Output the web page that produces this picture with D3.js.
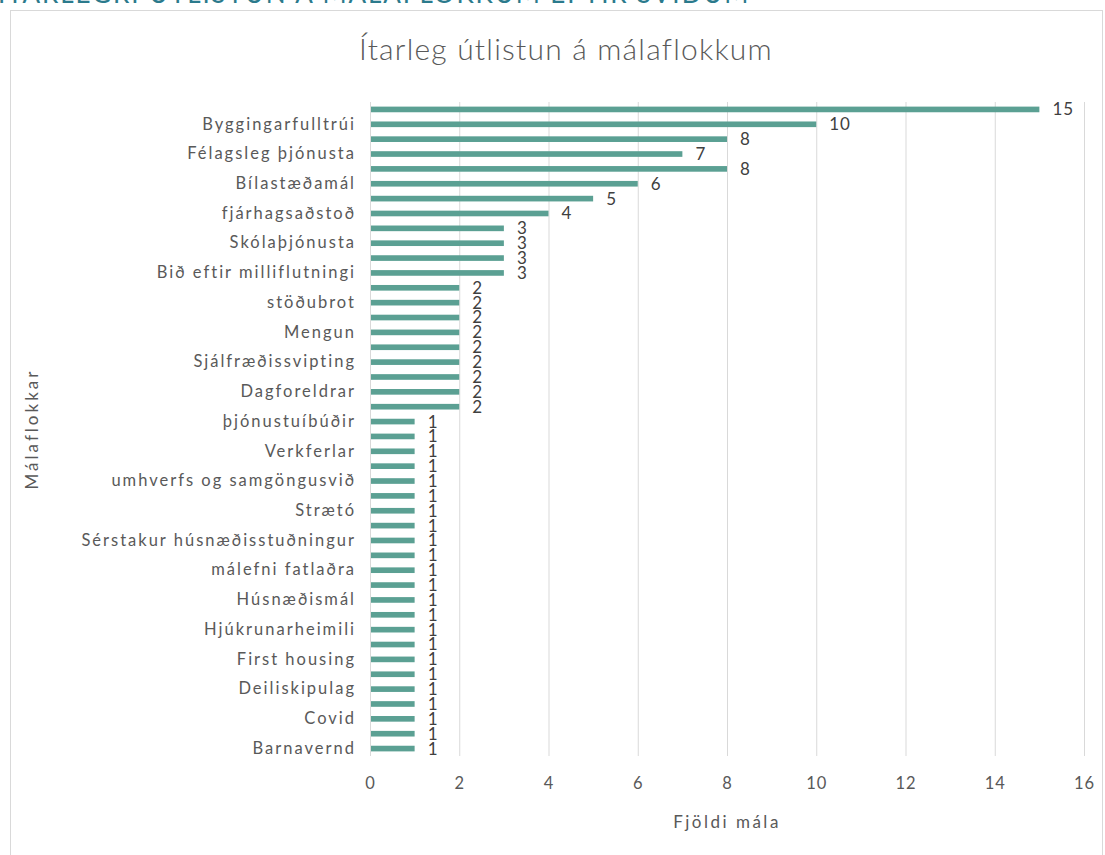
<!DOCTYPE html>
<html>
<head>
<meta charset="utf-8">
<script src="https://cdn.jsdelivr.net/npm/d3@7"></script>
<style>
  body { margin: 0; background: #fff; }
  svg { display: block; font-family: Lato, "Open Sans", sans-serif; }
</style>
</head>
<body>
<svg width="1105" height="855"></svg>
<script>
// categories from top to bottom, "" = label that Excel skipped
var categories = [
    "", "Byggingarfulltrúi", "", "Félagsleg þjónusta", "", "Bílastæðamál",
    "", "fjárhagsaðstoð", "", "Skólaþjónusta", "", "Bið eftir milliflutningi",
    "", "stöðubrot", "", "Mengun", "", "Sjálfræðissvipting", "", "Dagforeldrar",
    "", "þjónustuíbúðir", "", "Verkferlar", "", "umhverfs og samgöngusvið",
    "", "Strætó", "", "Sérstakur húsnæðisstuðningur", "", "málefni fatlaðra",
    "", "Húsnæðismál", "", "Hjúkrunarheimili", "", "First housing",
    "", "Deiliskipulag", "", "Covid", "", "Barnavernd"
];
var values = [
    15, 10, 8, 7, 8, 6, 5, 4, 3, 3, 3, 3,
    2, 2, 2, 2, 2, 2, 2, 2, 2,
    1, 1, 1, 1, 1, 1, 1, 1, 1, 1, 1, 1, 1, 1, 1, 1, 1, 1, 1, 1, 1, 1, 1
];
var xTicks = [0, 2, 4, 6, 8, 10, 12, 14, 16];

var title = "Ítarleg útlistun á málaflokkum";
var xTitle = "Fjöldi mála";
var yTitle = "Málaflokkar";
var header = "ÍTARLEGRI ÚTLISTUN Á MÁLAFLOKKUM EFTIR SVIÐUM";

var svg = d3.select("svg");
var barColor = "#5ba093";
var textColor = "#595959";

var data = values.map(function (v, i) { return { i: i, name: categories[i], value: v }; });

var x = d3.scaleLinear().domain([0, 16]).range([370, 1084]);
var y = d3.scaleBand()
    .domain(d3.range(values.length))
    .range([102, 756])
    .paddingInner(0.62)
    .paddingOuter(0.31);

// page header, cut at the top edge
svg.append("text")
    .attr("x", -2)
    .attr("y", 3)
    .attr("fill", "#2b7a8c")
    .attr("font-size", 26)
    .attr("letter-spacing", 1.9)
    .text(header);

// chart frame
svg.append("rect")
    .attr("x", 10.5)
    .attr("y", 10.5)
    .attr("width", 1092)
    .attr("height", 870)
    .attr("fill", "none")
    .attr("stroke", "#d9d9d9");

svg.append("text")
    .attr("x", 566)
    .attr("y", 60)
    .attr("text-anchor", "middle")
    .attr("fill", textColor)
    .attr("font-size", 30)
    .attr("font-weight", 300)
    .attr("letter-spacing", 1.2)
    .text(title);

// gridlines
svg.append("g")
    .selectAll("line")
    .data(xTicks)
    .enter().append("line")
    .attr("x1", function (d) { return x(d) + 0.5; })
    .attr("x2", function (d) { return x(d) + 0.5; })
    .attr("y1", 102)
    .attr("y2", 756)
    .attr("stroke", "#d9d9d9");

// x axis
var xAxis = svg.append("g")
    .attr("transform", "translate(0,756)")
    .call(d3.axisBottom(x).tickValues(xTicks).tickSize(0).tickPadding(21));
xAxis.select(".domain").remove();
xAxis.selectAll("text")
    .attr("fill", textColor)
    .attr("font-size", 16.5)
    .attr("letter-spacing", 1)
    .attr("font-family", "Lato, sans-serif");

// y axis
var yAxis = svg.append("g")
    .attr("transform", "translate(370,0)")
    .call(d3.axisLeft(y).tickSize(0).tickPadding(14)
        .tickFormat(function (i) { return categories[i]; }));
yAxis.select(".domain").remove();
yAxis.selectAll("text")
    .attr("fill", textColor)
    .attr("font-size", 16.5)
    .attr("letter-spacing", 2)
    .attr("font-family", "Lato, sans-serif");

// bars
svg.append("g")
    .selectAll("rect")
    .data(data)
    .enter().append("rect")
    .attr("x", x(0) + 1)
    .attr("y", function (d) { return y(d.i); })
    .attr("width", function (d) { return x(d.value) - x(0) - 1; })
    .attr("height", y.bandwidth())
    .attr("fill", barColor);

// data labels
svg.append("g")
    .selectAll("text")
    .data(data)
    .enter().append("text")
    .attr("x", function (d) { return x(d.value) + 13; })
    .attr("y", function (d) { return y(d.i) + y.bandwidth() / 2; })
    .attr("dy", "0.35em")
    .attr("fill", "#404040")
    .attr("font-size", 17)
    .attr("letter-spacing", 1)
    .text(function (d) { return d.value; });

svg.append("text")
    .attr("x", 727)
    .attr("y", 828)
    .attr("text-anchor", "middle")
    .attr("fill", textColor)
    .attr("font-size", 17)
    .attr("letter-spacing", 2.5)
    .text(xTitle);

svg.append("text")
    .attr("transform", "translate(38,429) rotate(-90)")
    .attr("text-anchor", "middle")
    .attr("fill", textColor)
    .attr("font-size", 17)
    .attr("letter-spacing", 3)
    .text(yTitle);
</script>
</body>
</html>
